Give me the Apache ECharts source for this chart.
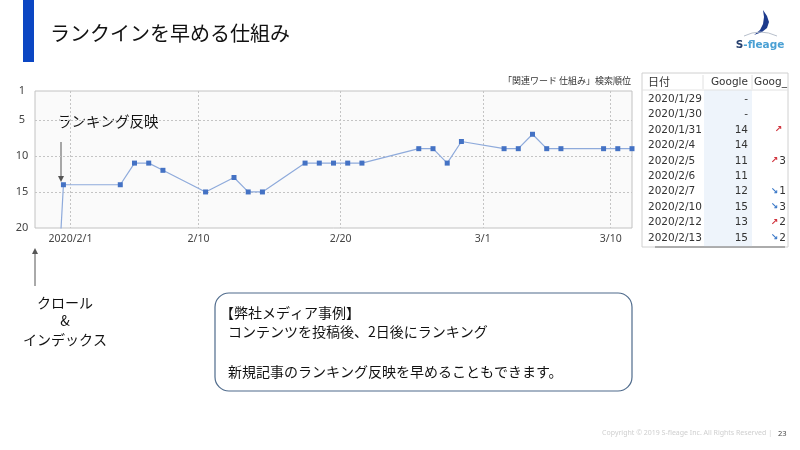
<!DOCTYPE html>
<html><head><meta charset="utf-8">
<script src="https://cdn.jsdelivr.net/npm/echarts@6/dist/echarts.min.js"></script>
<style>html,body{margin:0;padding:0;background:#fff}#c{width:800px;height:450px}</style>
</head><body><div id="c"></div>
<script>
// ---- chart data ----
const rankDates = ['2020/1/30','2020/1/31','2020/2/4','2020/2/5','2020/2/6','2020/2/7','2020/2/10','2020/2/12','2020/2/13','2020/2/14','2020/2/17','2020/2/18','2020/2/19','2020/2/20','2020/2/21','2020/2/25','2020/2/26','2020/2/27','2020/2/28','2020/3/2','2020/3/3','2020/3/4','2020/3/5','2020/3/6','2020/3/9','2020/3/10','2020/3/11'];
const ranks = [50,14,14,11,11,12,15,13,15,15,11,11,11,11,11,9,9,11,8,9,9,7,9,9,9,9,9];
const xTickDates = ['2020/2/1','2020/2/10','2020/2/20','2020/3/1','2020/3/10'];
const xTickLabels = ['2020/2/1','2/10','2/20','3/1','3/10'];
const yTickValues = [1,5,10,15,20];
const yGridValues = [5,10,15];
// ---- table data ----
const tableDates = ['2020/1/29','2020/1/30','2020/1/31','2020/2/4','2020/2/5','2020/2/6','2020/2/7','2020/2/10','2020/2/12','2020/2/13'];
const tableGoogle = ['-','-','14','14','11','11','12','15','13','15'];
const tableArrow = ['','','up','','up','','down','down','up','down'];
const tableDelta = ['','','','','3','','1','3','2','2'];

function ts(s, h){ const p = s.split('/').map(Number); return new Date(p[0], p[1]-1, p[2], h||0).getTime(); }
const xMin = ts('2020/1/29', 12), xMax = ts('2020/3/11', 12);
const tickTs = xTickDates.map(d => ts(d));
const labelMap = {}; tickTs.forEach((t,i)=>labelMap[t]=xTickLabels[i]);

const seriesData = rankDates.map((d,i)=>{
  const item = {value:[ts(d,12), ranks[i]]};
  if (ranks[i] > 20) item.symbol = 'none';
  return item;
});

const JP = '"Noto Sans CJK JP", "Noto Sans", sans-serif';
const g = [];
// title bar
g.push({type:'rect', shape:{x:23,y:0,width:11,height:62}, style:{fill:'#0b46c3'}});
g.push({type:'text', x:50, y:33, style:{text:'ランクインを早める仕組み', font:'20px '+JP, fill:'#111', verticalAlign:'middle'}});
// logo
g.push({type:'polygon', shape:{points:[[763,10],[767,16],[769,22],[767,28],[762,32],[754,35],[760,30],[763,24],[764,17]]}, style:{fill:'#1c3a8c'}});
g.push({type:'bezierCurve', shape:{x1:744,y1:36,x2:777,y2:36,cpx1:760,cpy1:28}, style:{fill:null, stroke:'#b8c0cc', lineWidth:1}});
g.push({type:'text', x:760, y:45, style:{text:'{a|S}{b|-fleage}', rich:{a:{fill:'#26406e', font:'bold 10.5px "DejaVu Sans", sans-serif'}, b:{fill:'#4aa0d4', font:'bold 10.5px "DejaVu Sans", sans-serif'}}, align:'center', verticalAlign:'middle'}});
// chart caption
g.push({type:'text', x:631, y:81, style:{text:'「関連ワード 仕組み」検索順位', font:'9px '+JP, fill:'#333', align:'right', verticalAlign:'middle'}});
// annotation ランキング反映
g.push({type:'text', x:57, y:121, style:{text:'ランキング反映', font:'14.5px '+JP, fill:'#111', verticalAlign:'middle'}});
g.push({type:'line', shape:{x1:61,y1:142,x2:61,y2:178}, style:{stroke:'#555', lineWidth:1}});
g.push({type:'polygon', shape:{points:[[58,176],[64,176],[61,182]]}, style:{fill:'#555'}});
// crawl arrow
g.push({type:'line', shape:{x1:35,y1:286,x2:35,y2:252}, style:{stroke:'#555', lineWidth:1}});
g.push({type:'polygon', shape:{points:[[32,254],[38,254],[35,248]]}, style:{fill:'#555'}});
g.push({type:'text', x:65, y:303, style:{text:'クロール', font:'14px '+JP, fill:'#111', align:'center', verticalAlign:'middle'}});
g.push({type:'text', x:65, y:321, style:{text:'&', font:'14px '+JP, fill:'#111', align:'center', verticalAlign:'middle'}});
g.push({type:'text', x:65, y:340, style:{text:'インデックス', font:'14px '+JP, fill:'#111', align:'center', verticalAlign:'middle'}});
// text box
g.push({type:'rect', shape:{x:215,y:293,width:417,height:98,r:14}, style:{fill:'#fff', stroke:'#4f6b8c', lineWidth:1.2}});
g.push({type:'text', x:220, y:313, style:{text:'【弊社メディア事例】', font:'14px '+JP, fill:'#111', verticalAlign:'middle'}});
g.push({type:'text', x:228, y:332, style:{text:'コンテンツを投稿後、2日後にランキング', font:'14px '+JP, fill:'#111', verticalAlign:'middle'}});
g.push({type:'text', x:228, y:372, style:{text:'新規記事のランキング反映を早めることもできます。', font:'14px '+JP, fill:'#111', verticalAlign:'middle'}});
// table
g.push({type:'rect', shape:{x:642,y:73,width:146,height:174}, style:{fill:'#fff', stroke:'#d0d0d0', lineWidth:1}});
g.push({type:'rect', shape:{x:704,y:90,width:48,height:157}, style:{fill:'#eef4fb'}});
g.push({type:'line', shape:{x1:642,y1:90,x2:788,y2:90}, style:{stroke:'#e2e2e2'}});
g.push({type:'line', shape:{x1:703,y1:75,x2:703,y2:89}, style:{stroke:'#e0e0e0'}});
g.push({type:'line', shape:{x1:752,y1:75,x2:752,y2:89}, style:{stroke:'#e0e0e0'}});
g.push({type:'line', shape:{x1:655,y1:247,x2:785,y2:247}, style:{stroke:'#999', lineWidth:1.5}});
const TF = '10.5px "DejaVu Sans", sans-serif';
g.push({type:'text', x:648, y:82, style:{text:'日付', font:'11px '+JP, fill:'#333', verticalAlign:'middle'}});
g.push({type:'text', x:748, y:82, style:{text:'Google', font:TF, fill:'#333', align:'right', verticalAlign:'middle'}});
g.push({type:'text', x:754, y:82, style:{text:'Goog_', font:TF, fill:'#333', verticalAlign:'middle'}});
tableDates.forEach((d,i)=>{
  const y = 99 + i*15.45;
  g.push({type:'text', x:648, y:y, style:{text:d, font:TF, fill:'#333', verticalAlign:'middle'}});
  g.push({type:'text', x:748, y:y, style:{text:tableGoogle[i], font:TF, fill:'#333', align:'right', verticalAlign:'middle'}});
  if (tableArrow[i]) {
    const up = tableArrow[i]==='up';
    const ax = tableDelta[i] ? 778 : 782;
    g.push({type:'text', x:ax, y:y, style:{text:up?'↗':'↘', font:'bold 9px "DejaVu Sans", sans-serif', fill:up?'#d0303a':'#3a78c8', align:'right', verticalAlign:'middle'}});
  }
  if (tableDelta[i]) g.push({type:'text', x:786, y:y, style:{text:tableDelta[i], font:TF, fill:'#333', align:'right', verticalAlign:'middle'}});
});
// footer
g.push({type:'text', x:772, y:433, style:{text:'Copyright © 2019 S-fleage Inc. All Rights Reserved |', font:'7px "Noto Sans", sans-serif', fill:'#cfcfcf', align:'right', verticalAlign:'middle'}});
g.push({type:'text', x:778, y:434, style:{text:'23', font:'7.5px "Noto Sans", sans-serif', fill:'#444', verticalAlign:'middle'}});

const gridLineStyle = {color:'#c4c4c4', type:[2,2], width:1};
const markData = yGridValues.map(v=>({yAxis:v})).concat(tickTs.map(t=>({xAxis:t})));

const chart = echarts.init(document.getElementById('c'), null, {renderer:'canvas'});
chart.setOption({
  animation:false,
  backgroundColor:'#fff',
  grid:{left:35, right:168, top:91, bottom:222, show:true, backgroundColor:'#fafafa', borderColor:'#c2c2c2', borderWidth:1},
  xAxis:{type:'value', min:xMin, max:xMax, scale:true,
    axisLine:{show:false}, axisTick:{show:false}, splitLine:{show:false},
    axisLabel:{customValues:tickTs, margin:6, color:'#444', fontSize:10.5, fontFamily:'"Noto Sans", sans-serif',
      formatter:(v)=>labelMap[v] || ''}},
  yAxis:{type:'value', inverse:true, min:1, max:20,
    axisLine:{show:false}, axisTick:{show:false}, splitLine:{show:false},
    axisLabel:{customValues:yTickValues, margin:13, align:'center', color:'#444', fontSize:11, fontFamily:'"Noto Sans", sans-serif'}},
  graphic:g,
  series:[{type:'line', data:seriesData, clip:true, symbol:'rect', symbolSize:5,
    lineStyle:{color:'#8eaadb', width:1.2}, itemStyle:{color:'#4472c4'},
    markLine:{silent:true, symbol:'none', label:{show:false}, lineStyle:gridLineStyle, data:markData, z:1}}]
});
</script></body></html>
